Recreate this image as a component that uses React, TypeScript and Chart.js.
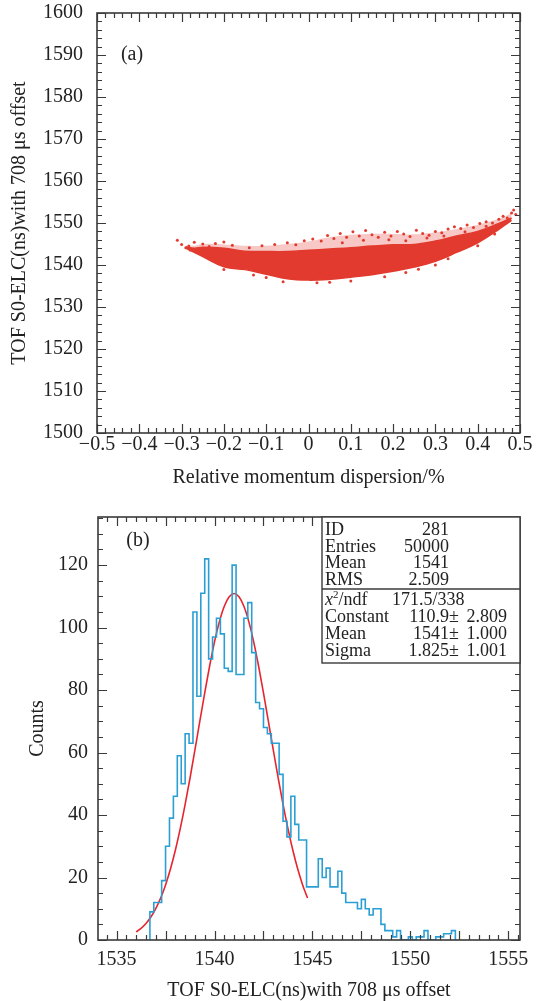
import React, { useEffect, useRef } from "react";
import { Chart, registerables } from "chart.js";

Chart.register(...registerables);

const SERIF = "'Liberation Serif', 'Times New Roman', serif";
const INK = "#222222";
const FRAME = "#3a3a3a";
const DOT_RED = "#e23a2e";
const HALO_RED = "rgba(226,58,46,0.28)";
const HIST_BLUE = "#2b9fd4";
const FIT_RED = "#e5262f";

// ---------- panel (a): scatter of TOF vs momentum dispersion ----------
const bandX = [-0.29, -0.27, -0.25, -0.2, -0.15, -0.1, -0.05, 0, 0.05, 0.1, 0.15, 0.2, 0.25, 0.3, 0.35, 0.4, 0.45, 0.48];
const bandLower = [1544.0, 1543.0, 1542.0, 1539.6, 1538.9, 1537.8, 1536.7, 1536.4, 1536.6, 1537.1, 1537.7, 1538.5, 1539.5, 1540.9, 1543.0, 1545.3, 1548.5, 1550.6];
const coreUpper = [1544.3, 1544.0, 1544.2, 1544.0, 1543.3, 1543.2, 1543.2, 1543.5, 1543.8, 1544.1, 1544.5, 1544.8, 1544.9, 1545.7, 1546.9, 1548.0, 1549.9, 1551.2];
const haloUpper = [1544.6, 1544.6, 1545.0, 1544.9, 1544.6, 1544.6, 1545.0, 1545.6, 1546.6, 1547.2, 1547.4, 1547.4, 1547.3, 1547.8, 1548.6, 1549.6, 1551.0, 1552.3];
const sparsePoints: [number, number][] = [
  [-0.31, 1545.9], [-0.283, 1544.5], [-0.265, 1543.3], [-0.25, 1545.0], [-0.235, 1544.4],
  [-0.22, 1545.1], [-0.18, 1544.7], [-0.14, 1544.1], [-0.11, 1544.6], [-0.08, 1544.9],
  [-0.05, 1545.3], [-0.03, 1544.8], [-0.01, 1545.8], [0.01, 1546.2], [0.03, 1545.7],
  [0.045, 1547.0], [0.06, 1546.3], [0.075, 1547.5], [0.09, 1546.6], [0.105, 1547.9],
  [0.12, 1546.9], [0.135, 1548.2], [0.15, 1547.2], [0.165, 1546.6], [0.18, 1547.8],
  [0.195, 1546.9], [0.21, 1548.0], [0.225, 1547.4], [0.24, 1546.8], [0.255, 1548.3],
  [0.27, 1547.5], [0.285, 1547.1], [0.3, 1548.0], [0.315, 1547.7], [0.33, 1548.6],
  [0.345, 1549.1], [0.36, 1548.7], [0.375, 1549.5], [0.39, 1548.9], [0.405, 1549.9],
  [0.42, 1550.3], [0.435, 1550.0], [0.45, 1550.9], [0.46, 1551.6], [0.47, 1551.2],
  [0.48, 1552.4], [0.49, 1552.0], [0.485, 1553.1], [-0.2, 1538.9], [-0.13, 1537.6],
  [-0.06, 1536.0], [0.02, 1535.8], [0.1, 1536.2], [0.18, 1537.2], [0.26, 1539.0],
  [0.33, 1541.5], [0.4, 1544.6], [-0.29, 1544.1], [-0.27, 1545.4], [-0.2, 1545.5],
  [0.08, 1545.3], [0.13, 1545.9], [0.19, 1546.0], [0.23, 1545.8], [0.28, 1546.4],
  [0.32, 1546.9], [0.37, 1547.9], [0.42, 1549.2], [-0.1, 1537.0], [0.05, 1535.9],
  [0.23, 1538.2], [0.3, 1540.0], [0.44, 1547.4], [-0.3, 1544.9], [-0.28, 1543.6],
];
const aXTicks = [-0.5, -0.4, -0.3, -0.2, -0.1, 0, 0.1, 0.2, 0.3, 0.4, 0.5];
const aYTicks = [1500, 1510, 1520, 1530, 1540, 1550, 1560, 1570, 1580, 1590, 1600];

// ---------- panel (b): histogram with Gaussian fit ----------
const histStart = 1536.7;
const binWidth = 0.2;
const histCounts = [
  9, 12, 12, 19, 30, 39, 46, 59, 50, 66,
  63, 105, 78, 111, 122, 90, 97, 103, 98, 87,
  86, 120, 85, 85, 103, 108, 92, 76, 74, 68,
  66, 63, 63, 53, 38, 33, 46, 37, 32, 32,
  17, 17, 17, 26, 20, 23, 17, 17, 22, 15,
  12, 12, 12, 10, 13, 10, 8, 10, 10, 5,
  3, 3, 1, 3, 0, 0, 1, 0, 1, 1,
  3, 0, 0, 1, 1, 2, 2, 3,
];
const fitX = [
  1536.0, 1536.25, 1536.5, 1536.75, 1537.0, 1537.25, 1537.5, 1537.75, 1538.0, 1538.25,
  1538.5, 1538.75, 1539.0, 1539.25, 1539.5, 1539.75, 1540.0, 1540.25, 1540.5, 1540.75,
  1541.0, 1541.25, 1541.5, 1541.75, 1542.0, 1542.25, 1542.5, 1542.75, 1543.0, 1543.25,
  1543.5, 1543.75, 1544.0, 1544.25, 1544.5, 1544.75,
];
const fitY = [
  2.6, 3.75, 5.3, 7.36, 10.04, 13.43, 17.63, 22.71, 28.72, 35.64,
  43.4, 51.86, 60.84, 70.03, 79.11, 87.71, 95.44, 101.92, 106.82, 109.87,
  110.9, 109.87, 106.82, 101.92, 95.44, 87.71, 79.11, 70.03, 60.84, 51.86,
  43.4, 35.64, 28.72, 22.71, 17.63, 13.43,
];
const bXTicks = [1535, 1540, 1545, 1550, 1555];
const bYTicks = [0, 20, 40, 60, 80, 100, 120];
const statsRows: [string, string][] = [
  ["ID", "281"],
  ["Entries", "50000"],
  ["Mean", "1541"],
  ["RMS", "2.509"],
];
const chi2Text = "171.5/338";
const fitRows: [string, string, string][] = [
  ["Constant", "110.9\u00b1", "2.809"],
  ["Mean", "1541\u00b1", "1.000"],
  ["Sigma", "1.825\u00b1", "1.001"],
];

const TITLE_TOF = "TOF S0-ELC(ns)with 708 \u03bcs offset";

// ---------- plugins ----------
function gridValues(min: number, max: number, step: number) {
  const out: number[] = [];
  const start = Math.ceil(min / step - 1e-9);
  const end = Math.floor(max / step + 1e-9);
  for (let i = start; i <= end; i++) out.push(+(i * step).toFixed(6));
  return out;
}
function isMult(v: number, step: number) {
  const r = v / step;
  return Math.abs(r - Math.round(r)) < 1e-6;
}

const frameTicks = {
  id: "frameTicks",
  afterDraw(chart: any, _args: any, opts: any) {
    const { ctx, chartArea } = chart;
    const { left, right, top, bottom } = chartArea;
    const xs = chart.scales.x;
    const ys = chart.scales.y;
    ctx.save();
    ctx.strokeStyle = FRAME;
    ctx.lineWidth = 1.2;
    ctx.beginPath();
    for (const v of gridValues(xs.min, xs.max, opts.xMinor)) {
      const p = Math.round(xs.getPixelForValue(v)) + 0.5;
      const len = isMult(v, opts.xMajor) ? opts.major : opts.minor;
      ctx.moveTo(p, bottom);
      ctx.lineTo(p, bottom - len);
      ctx.moveTo(p, top);
      ctx.lineTo(p, top + len);
    }
    for (const v of gridValues(ys.min, ys.max, opts.yMinor)) {
      const p = Math.round(ys.getPixelForValue(v)) + 0.5;
      const len = isMult(v, opts.yMajor) ? opts.major : opts.minor;
      ctx.moveTo(left, p);
      ctx.lineTo(left + len, p);
      ctx.moveTo(right, p);
      ctx.lineTo(right - len, p);
    }
    ctx.stroke();
    ctx.lineWidth = 1.6;
    ctx.strokeRect(left, top, right - left, bottom - top);
    ctx.fillStyle = INK;
    ctx.font = `20px ${SERIF}`;
    ctx.textAlign = "center";
    ctx.textBaseline = "middle";
    ctx.fillText(opts.tag, left + opts.tagDx, top + opts.tagDy);
    ctx.restore();
  },
};

const statsBox = {
  id: "statsBox",
  afterDraw(chart: any) {
    const { ctx, chartArea } = chart;
    const R = chartArea.right;
    const T = chartArea.top;
    const L = R - 198;
    ctx.save();
    ctx.fillStyle = "#ffffff";
    ctx.fillRect(L, T, R - L, 146);
    ctx.strokeStyle = FRAME;
    ctx.lineWidth = 1.4;
    ctx.strokeRect(L, T, R - L, 146);
    ctx.beginPath();
    ctx.moveTo(L, T + 72);
    ctx.lineTo(R, T + 72);
    ctx.stroke();
    ctx.fillStyle = INK;
    ctx.font = `18px ${SERIF}`;
    ctx.textBaseline = "alphabetic";
    const rowY = [18, 34.7, 51, 67.5];
    statsRows.forEach(([k, v], i) => {
      ctx.textAlign = "left";
      ctx.fillText(k, L + 3, T + rowY[i]);
      ctx.textAlign = "right";
      ctx.fillText(v, L + 127, T + rowY[i]);
    });
    const cy = T + 88;
    ctx.textAlign = "left";
    ctx.font = `italic 18px ${SERIF}`;
    ctx.fillText("x", L + 3, cy);
    const xw = ctx.measureText("x").width;
    ctx.font = `11px ${SERIF}`;
    ctx.fillText("2", L + 3 + xw, cy - 7);
    const sw = ctx.measureText("2").width;
    ctx.font = `18px ${SERIF}`;
    ctx.fillText("/ndf", L + 3 + xw + sw, cy);
    ctx.fillText(chi2Text, L + 70, cy);
    const fy = [105, 121.5, 138.5];
    fitRows.forEach(([k, v, e], i) => {
      ctx.textAlign = "left";
      ctx.fillText(k, L + 3, T + fy[i]);
      ctx.textAlign = "right";
      ctx.fillText(v, L + 137, T + fy[i]);
      ctx.fillText(e, L + 185, T + fy[i]);
    });
    ctx.restore();
  },
};

const tickFont = { family: SERIF, size: 20 };

function fmtSigned(v: number) {
  if (Math.abs(v) < 1e-9) return "0";
  const s = Math.abs(v).toFixed(1);
  return v < 0 ? "\u2212" + s : s;
}

function fitX_(h: number) {
  return (s: any) => { s.height = h; s.paddingLeft = 0; s.paddingRight = 0; };
}
function fitY_(w: number) {
  return (s: any) => { s.width = w; s.paddingTop = 0; s.paddingBottom = 0; };
}

function PlotA() {
  const ref = useRef<HTMLCanvasElement>(null);
  useEffect(() => {
    const lower = bandX.map((x, i) => ({ x, y: bandLower[i] }));
    const core = bandX.map((x, i) => ({ x, y: coreUpper[i] }));
    const halo = bandX.map((x, i) => ({ x, y: haloUpper[i] }));
    const sparse = sparsePoints.map(([x, y]) => ({ x, y }));
    const chart = new Chart(ref.current as HTMLCanvasElement, {
      type: "scatter",
      data: {
        datasets: [
          {
            data: lower, showLine: true, pointRadius: 0, borderColor: DOT_RED,
            borderWidth: 1.5, tension: 0.4, fill: false,
          },
          {
            data: core, showLine: true, pointRadius: 0, borderColor: DOT_RED,
            backgroundColor: DOT_RED, borderWidth: 1.5, tension: 0.4, fill: "-1",
          },
          {
            data: halo, showLine: true, pointRadius: 0, borderColor: "rgba(0,0,0,0)",
            backgroundColor: HALO_RED, borderWidth: 0, tension: 0.4, fill: "-1",
          },
          {
            data: sparse, pointRadius: 1.5, pointBorderWidth: 0,
            backgroundColor: DOT_RED, borderColor: DOT_RED,
          },
        ],
      },
      options: {
        responsive: false,
        animation: false,
        devicePixelRatio: 1,
        events: [],
        layout: { padding: { left: 0, right: 16, top: 13, bottom: 0 } },
        plugins: {
          legend: { display: false },
          tooltip: { enabled: false },
          frameTicks: {
            xMinor: 0.02, xMajor: 0.1, yMinor: 2, yMajor: 10, major: 9, minor: 5,
            tag: "(a)", tagDx: 35, tagDy: 42,
          },
        } as any,
        scales: {
          x: {
            type: "linear", min: -0.5, max: 0.5,
            grid: { display: false, drawTicks: false },
            border: { display: false },
            afterBuildTicks: (s: any) => { s.ticks = aXTicks.map((value) => ({ value })); },
            afterFit: fitX_(67),
            ticks: {
              autoSkip: false, maxRotation: 0, minRotation: 0, padding: 0,
              color: INK, font: tickFont,
              callback: (v: any) => fmtSigned(Number(v)),
            },
            title: {
              display: true, text: "Relative momentum dispersion/%",
              color: INK, font: { family: SERIF, size: 20 }, padding: { top: 0, bottom: 10 },
            },
          },
          y: {
            type: "linear", min: 1500, max: 1600,
            grid: { display: false, drawTicks: false },
            border: { display: false },
            afterBuildTicks: (s: any) => { s.ticks = aYTicks.map((value) => ({ value })); },
            afterFit: fitY_(97),
            ticks: {
              autoSkip: false, padding: 14, color: INK, font: tickFont,
              callback: (v: any) => String(v),
            },
            title: {
              display: true, text: TITLE_TOF,
              color: INK, font: { family: SERIF, size: 20 }, padding: { top: 8, bottom: 0 },
            },
          },
        },
      },
      plugins: [frameTicks],
    } as any);
    return () => chart.destroy();
  }, []);
  return <canvas ref={ref} width={536} height={500} style={{ display: "block" }} />;
}

function PlotB() {
  const ref = useRef<HTMLCanvasElement>(null);
  useEffect(() => {
    const n = histCounts.length;
    const hist = [{ x: histStart, y: 0 }]
      .concat(histCounts.map((c, i) => ({ x: histStart + i * binWidth, y: c })))
      .concat([{ x: histStart + n * binWidth, y: 0 }]);
    const fit = fitX.map((x, i) => ({ x, y: fitY[i] }));
    const chart = new Chart(ref.current as HTMLCanvasElement, {
      type: "scatter",
      data: {
        datasets: [
          {
            data: hist, showLine: true, stepped: true, pointRadius: 0,
            borderColor: HIST_BLUE, borderWidth: 1.6, fill: false,
          },
          {
            data: fit, showLine: true, pointRadius: 0, borderColor: FIT_RED,
            borderWidth: 1.6, cubicInterpolationMode: "monotone", fill: false,
          },
        ],
      },
      options: {
        responsive: false,
        animation: false,
        devicePixelRatio: 1,
        events: [],
        layout: { padding: { left: 0, right: 16, top: 17, bottom: 0 } },
        plugins: {
          legend: { display: false },
          tooltip: { enabled: false },
          frameTicks: {
            xMinor: 0.5, xMajor: 2.5, yMinor: 5, yMajor: 20, major: 9, minor: 5,
            tag: "(b)", tagDx: 40, tagDy: 24,
          },
        } as any,
        scales: {
          x: {
            type: "linear", min: 1534.05, max: 1555.6,
            grid: { display: false, drawTicks: false },
            border: { display: false },
            afterBuildTicks: (s: any) => { s.ticks = bXTicks.map((value) => ({ value })); },
            afterFit: fitX_(61),
            ticks: {
              autoSkip: false, maxRotation: 0, minRotation: 0, padding: 8,
              color: INK, font: tickFont,
              callback: (v: any) => String(v),
            },
            title: {
              display: true, text: TITLE_TOF,
              color: INK, font: { family: SERIF, size: 20 }, padding: { top: 0, bottom: -2 },
            },
          },
          y: {
            type: "linear", min: 0, max: 135.4,
            grid: { display: false, drawTicks: false },
            border: { display: false },
            afterBuildTicks: (s: any) => { s.ticks = bYTicks.map((value) => ({ value })); },
            afterFit: fitY_(98),
            ticks: {
              autoSkip: false, padding: 10, color: INK, font: tickFont,
              callback: (v: any) => String(v),
            },
            title: {
              display: true, text: "Counts",
              color: INK, font: { family: SERIF, size: 20 }, padding: { top: 26, bottom: 0 },
            },
          },
        },
      },
      plugins: [frameTicks, statsBox],
    } as any);
    return () => chart.destroy();
  }, []);
  return <canvas ref={ref} width={536} height={501} style={{ display: "block" }} />;
}

export default function App() {
  return (
    <div style={{ position: "absolute", left: 0, top: 0, width: 536, height: 1001, background: "#ffffff" }}>
      <PlotA />
      <PlotB />
    </div>
  );
}
